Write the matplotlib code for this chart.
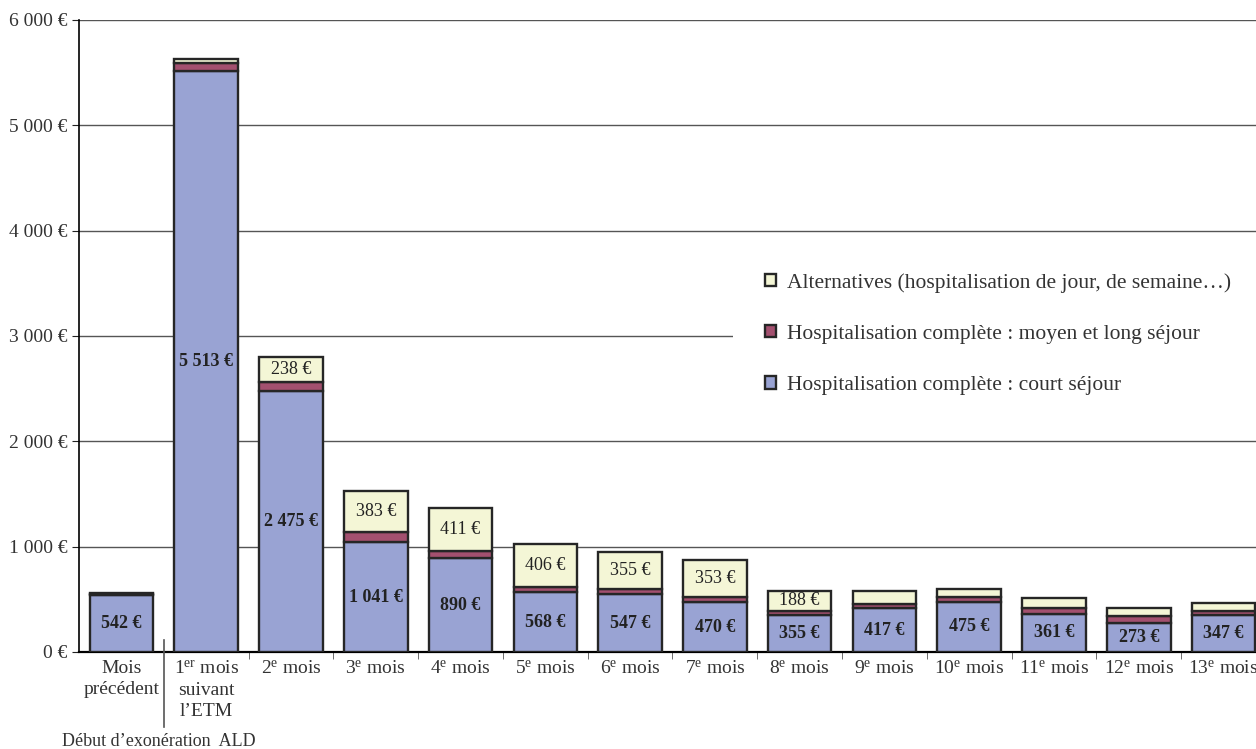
import matplotlib

matplotlib.use("Agg")
import matplotlib.pyplot as plt
import numpy as np
from matplotlib.ticker import FuncFormatter, FixedLocator

plt.rcParams["font.family"] = ["Liberation Serif", "DejaVu Serif"]
plt.rcParams["mathtext.fontset"] = "custom"
plt.rcParams["mathtext.rm"] = "Liberation Serif"
plt.rcParams["mathtext.it"] = "Liberation Serif:italic"
plt.rcParams["mathtext.bf"] = "Liberation Serif:bold"

# --- data -------------------------------------------------------------
months = [
    "Mois\nprécédent",
    "1$^{\\mathrm{er}}$ mois\nsuivant\nl\u2019ETM",
    "2$^{\\mathrm{e}}$ mois",
    "3$^{\\mathrm{e}}$ mois",
    "4$^{\\mathrm{e}}$ mois",
    "5$^{\\mathrm{e}}$ mois",
    "6$^{\\mathrm{e}}$ mois",
    "7$^{\\mathrm{e}}$ mois",
    "8$^{\\mathrm{e}}$ mois",
    "9$^{\\mathrm{e}}$ mois",
    "10$^{\\mathrm{e}}$ mois",
    "11$^{\\mathrm{e}}$ mois",
    "12$^{\\mathrm{e}}$ mois",
    "13$^{\\mathrm{e}}$ mois",
]
court_sejour = [542, 5513, 2475, 1041, 890, 568, 547, 470, 355, 417, 475, 361, 273, 347]
moyen_long = [12, 80, 90, 100, 65, 50, 50, 50, 38, 40, 45, 60, 72, 45]
alternatives = [6, 35, 238, 383, 411, 406, 355, 353, 188, 125, 80, 95, 70, 70]
# alternatives values that carry a label on the chart
alt_labelled = [False, False, True, True, True, True, True, True, True,
                False, False, False, False, False]

labels = [
    "Hospitalisation complète : court séjour",
    "Hospitalisation complète : moyen et long séjour",
    "Alternatives (hospitalisation de jour, de semaine\u2026)",
]
colors = ["#99a3d3", "#a3506f", "#f4f6d6"]


def euro(v, _pos=None):
    return f"{v:,.0f}".replace(",", "\u00a0") + "\u00a0\u20ac"


fig = plt.figure(figsize=(12.56, 7.49), dpi=100)
# the source chart is cropped on the right, so the axes run past the figure edge
ax = fig.add_axes([79 / 1256, 97 / 749, (1266 - 79) / 1256, 632 / 749])

x = np.arange(len(months))
width = 0.75
edge = dict(edgecolor="#262626", linewidth=1.7)

cs = np.array(court_sejour, dtype=float)
ml = np.array(moyen_long, dtype=float)
alt = np.array(alternatives, dtype=float)

b1 = ax.bar(x, cs, width, color=colors[0], label=labels[0], zorder=3, **edge)
b2 = ax.bar(x, ml, width, bottom=cs, color=colors[1], label=labels[1], zorder=3, **edge)
b3 = ax.bar(x, alt, width, bottom=cs + ml, color=colors[2], label=labels[2], zorder=3, **edge)

for i in x:
    ax.text(i, cs[i] / 2, euro(cs[i]), ha="center", va="center",
            fontsize=13, fontweight="bold", color="#222222", zorder=5)
    if alt_labelled[i]:
        ax.text(i, cs[i] + ml[i] + alt[i] / 2, euro(alt[i]), ha="center", va="center",
                fontsize=13, color="#222222", zorder=5)

ax.set_xlim(-0.5, len(months) - 0.5)
ax.set_ylim(0, 6000)
ax.yaxis.set_major_locator(FixedLocator(np.arange(0, 6001, 1000)))
ax.yaxis.set_major_formatter(FuncFormatter(euro))
ax.grid(axis="y", color="#555555", linewidth=1.0, zorder=0)

ax.set_xticks(x)
ax.set_xticklabels(months, fontsize=14, color="#333333", linespacing=1.32)
ax.tick_params(axis="x", length=0, pad=6)
ax.set_xticks(np.arange(1.5, len(months) - 0.5, 1), minor=True)
ax.tick_params(axis="x", which="minor", length=5, color="#555555", direction="out")
ax.tick_params(axis="y", length=5, labelsize=14, labelcolor="#333333", color="#222222")

for s in ["top", "right"]:
    ax.spines[s].set_visible(False)
ax.spines["left"].set_linewidth(1.2)
ax.spines["bottom"].set_linewidth(1.6)

# start of ALD exemption marker
ax.plot([0.5, 0.5], [0.019, -0.119], transform=ax.get_xaxis_transform(),
        color="#555555", linewidth=1.2, clip_on=False, zorder=6)
fig.text(62 / 1256, 1 - 742 / 749, "Début d\u2019exonération  ALD", fontsize=13,
         color="#333333", va="center", ha="left")

handles = [b3, b2, b1]
leg = ax.legend(handles, [labels[2], labels[1], labels[0]],
                loc="center left", bbox_to_anchor=(0.5418, 0.503),
                fontsize=15.5, frameon=True, facecolor="white", edgecolor="none",
                framealpha=1.0, handlelength=0.5, handleheight=0.5,
                handletextpad=0.5, labelspacing=1.5, borderpad=1.5)
for t in leg.get_texts():
    t.set_color("#333333")
leg.set_zorder(6)

fig.savefig("out.png", dpi=100)
